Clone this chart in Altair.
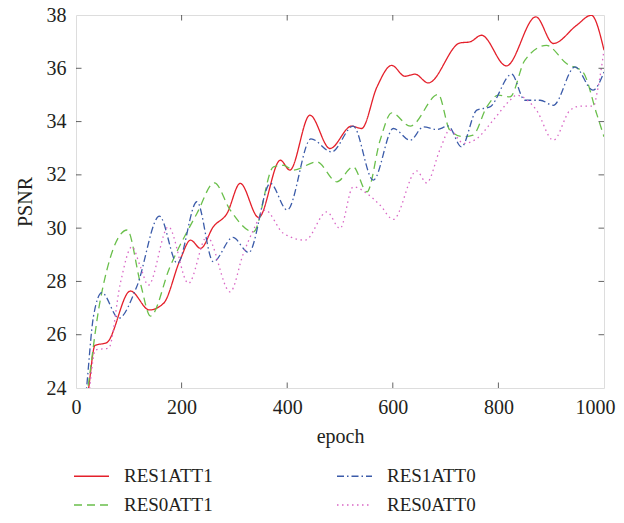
import altair as alt
import pandas as pd

# ---- data ----
red_epoch = [20, 24, 36, 58, 103, 139, 166, 197, 217, 236, 260, 286, 311, 346, 387, 405, 443, 481, 522, 541, 570, 598, 623, 642, 667, 727, 746, 768, 815, 871, 904, 948, 976, 1000]
red_psnr = [23.4, 24.0, 25.6, 25.7, 27.64, 26.93, 27.18, 28.8, 29.55, 29.24, 30.05, 30.55, 31.68, 30.40, 32.55, 32.18, 34.24, 32.99, 33.83, 33.74, 35.3, 36.11, 35.70, 35.78, 35.45, 36.95, 36.99, 37.24, 36.09, 37.93, 36.93, 37.61, 37.99, 36.68]

green_epoch = [20, 24, 46, 97, 122, 141, 178, 229, 262, 292, 336, 374, 393, 412, 456, 494, 525, 551, 576, 598, 633, 686, 708, 734, 752, 778, 800, 822, 850, 891, 929, 960, 986, 1000]
green_psnr = [23.6, 24.2, 27.3, 29.93, 27.93, 26.7, 28.55, 30.55, 31.7, 30.68, 29.86, 32.3, 32.36, 32.18, 32.49, 31.74, 32.3, 31.36, 33.3, 34.33, 33.83, 35.02, 33.68, 33.43, 33.49, 34.55, 34.99, 34.93, 36.3, 36.86, 36.18, 35.86, 34.30, 33.43]

blue_epoch = [18, 20, 33, 49, 81, 115, 158, 192, 229, 260, 297, 327, 368, 400, 445, 484, 525, 563, 601, 633, 658, 683, 705, 730, 759, 784, 825, 850, 879, 904, 945, 979, 1000]
blue_psnr = [23.6, 24.0, 26.68, 27.58, 26.62, 27.8, 30.45, 28.68, 30.99, 28.74, 29.65, 29.08, 31.68, 30.68, 33.35, 32.86, 33.83, 31.8, 33.74, 33.3, 33.8, 33.70, 33.83, 33.05, 34.43, 34.55, 35.78, 34.8, 34.8, 34.61, 36.05, 35.18, 35.86]

pink_epoch = [24, 26, 37, 62, 84, 106, 122, 137, 175, 213, 248, 292, 317, 336, 358, 393, 434, 475, 500, 525, 551, 576, 601, 645, 664, 689, 708, 734, 759, 790, 822, 834, 872, 904, 936, 955, 980, 988, 1000]
pink_psnr = [23.6, 24.0, 25.43, 25.5, 27.93, 29.3, 28.55, 27.86, 30.05, 27.93, 29.68, 27.61, 29.05, 29.93, 30.68, 29.8, 29.55, 30.61, 29.99, 31.55, 31.3, 30.86, 30.33, 32.15, 31.7, 32.93, 33.68, 33.18, 33.36, 34.05, 34.8, 34.99, 34.43, 33.3, 34.43, 34.58, 34.58, 35.2, 36.68]

# legend is laid out column by column: col 1 = RES1ATT1, RES0ATT1 ; col 2 = RES1ATT0, RES0ATT0
series_order = ["RES1ATT1", "RES0ATT1", "RES1ATT0", "RES0ATT0"]
series_colors = ["#e4202b", "#6abf4b", "#3b5ba9", "#d966c5"]
series_dashes = [[1, 0], [8, 5], [7, 3, 1.5, 3], [1.5, 3.5]]

x_ticks = [0, 200, 400, 600, 800, 1000]
y_ticks = [24, 26, 28, 30, 32, 34, 36, 38]

FONT = "Liberation Serif"
TXT = "#231f20"

frames = []
for name, ep, ps in [("RES1ATT1", red_epoch, red_psnr), ("RES0ATT1", green_epoch, green_psnr),
                     ("RES1ATT0", blue_epoch, blue_psnr), ("RES0ATT0", pink_epoch, pink_psnr)]:
    frames.append(pd.DataFrame({"epoch": ep, "psnr": ps, "series": name}))
df = pd.concat(frames, ignore_index=True)

xscale = alt.Scale(domain=[0, 1000], nice=False, zero=False)
yscale = alt.Scale(domain=[24, 38], nice=False, zero=False)

leg = alt.Legend(title=None, orient="none", legendX=-3, legendY=442.5, columns=2,
                 symbolType="stroke", symbolSize=1225, symbolStrokeWidth=1.3,
                 labelFont=FONT, labelFontSize=19, labelColor=TXT, labelOffset=14,
                 columnPadding=121, rowPadding=-8, padding=0, labelLimit=300)

last_x = x_ticks[-1]

lines = alt.Chart(df).mark_line(clip=True, strokeWidth=1.3, interpolate="monotone").encode(
    x=alt.X("epoch:Q", scale=xscale,
            axis=alt.Axis(values=x_ticks, format="d", ticks=False, domain=False, grid=False,
                          labelFlush=False,
                          labelAlign={"condition": {"test": f"datum.value == {last_x}", "value": "right"}, "value": "center"},
                          labelOffset={"condition": {"test": f"datum.value == {last_x}", "value": 11}, "value": 0},
                          labelFont=FONT, labelFontSize=20, labelColor=TXT, labelPadding=9,
                          title="epoch", titleFont=FONT, titleFontSize=20, titleFontWeight="normal",
                          titleColor=TXT, titlePadding=9)),
    y=alt.Y("psnr:Q", scale=yscale,
            axis=alt.Axis(values=y_ticks, format="d", ticks=False, domain=False, grid=False,
                          labelFont=FONT, labelFontSize=20, labelColor=TXT, labelPadding=10,
                          title="PSNR", titleFont=FONT, titleFontSize=20, titleFontWeight="normal",
                          titleColor=TXT, titlePadding=11)),
    color=alt.Color("series:N", scale=alt.Scale(domain=series_order, range=series_colors), legend=leg),
    strokeDash=alt.StrokeDash("series:N", scale=alt.Scale(domain=series_order, range=series_dashes), legend=leg),
    detail="series:N",
)

inner_x = x_ticks[1:-1]
inner_y = y_ticks[1:-1]
xt = pd.DataFrame({"epoch": inner_x * 2, "psnr": [24] * len(inner_x) + [38] * len(inner_x)})
yt = pd.DataFrame({"psnr": inner_y * 2, "epoch": [0] * len(inner_y) + [1000] * len(inner_y)})

xticks_layer = alt.Chart(xt).mark_tick(clip=True, orient="vertical", size=11, thickness=1, color="#222").encode(
    x=alt.X("epoch:Q", scale=xscale), y=alt.Y("psnr:Q", scale=yscale))
yticks_layer = alt.Chart(yt).mark_tick(clip=True, orient="horizontal", size=11, thickness=1, color="#222").encode(
    x=alt.X("epoch:Q", scale=xscale), y=alt.Y("psnr:Q", scale=yscale))

chart = alt.layer(lines, xticks_layer, yticks_layer).properties(
    width=528, height=373,
    autosize=alt.AutoSizeParams(type="none"),
    padding={"left": 68, "top": 7, "right": 12, "bottom": 127},
).configure_view(stroke="#222", strokeWidth=1.3).configure(background="white")

chart.save("out.html", embed_options={"renderer": "svg", "actions": False})
